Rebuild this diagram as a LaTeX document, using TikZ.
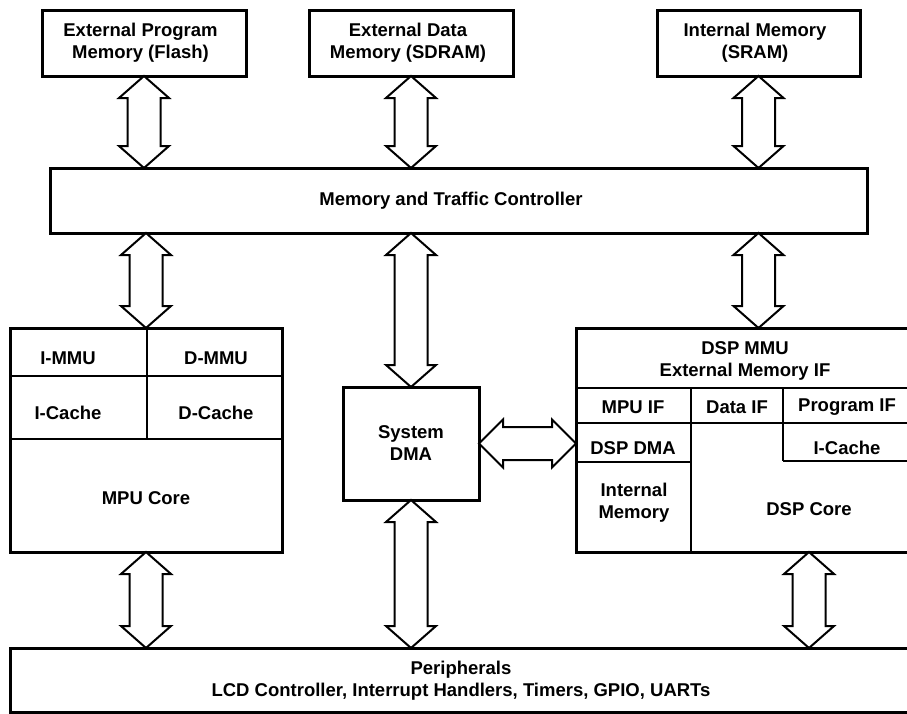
\documentclass[tikz,border=0pt]{standalone}
\usepackage{fontspec}
\setmainfont{Liberation Sans}
\usetikzlibrary{calc}
\newcommand\vbus[2]{\draw[bus] (#1) -- ++(25,22) -- ++(-8.5,0) -- ($(#2)+(16.5,-22)$) -- ++(8.5,0) -- (#2) -- ++(-25,-22) -- ++(8.5,0) -- ($(#1)+(-16.5,22)$) -- ++(-8.5,0) -- cycle;}
\newcommand\hbus[2]{\draw[bus] (#1) -- ++(24,-24) -- ++(0,7.5) -- ($(#2)+(-24,-16.5)$) -- ++(0,-7.5) -- (#2) -- ++(-24,24) -- ++(0,-7.5) -- ($(#1)+(24,16.5)$) -- ++(0,7.5) -- cycle;}
\begin{document}
\begin{tikzpicture}[x=1pt,y=-1pt,
  every node/.style={font=\bfseries\fontsize{18.5}{22}\selectfont, align=center},
  box/.style={draw, line width=3pt, inner sep=0pt, outer sep=0pt, rectangle},
  bus/.style={draw, line width=2pt, fill=white, line join=miter},
  divider/.style={line width=1.6pt},
  lbl/.style={inner sep=0pt}]
\useasboundingbox (0,0) rectangle (907,713);
\clip (0,0) rectangle (907,713);
\fill[white] (0,0) rectangle (907,713);
% top memories
\node[box, minimum width=204, minimum height=66] (F) at (144,43) {};
\node[lbl] (Ftxt) at (140.5,42.5) {External Program\\Memory (Flash)};
\node[box, minimum width=204, minimum height=66] (S) at (411,43) {};
\node[lbl] (Stxt) at (408,42.5) {External Data\\Memory (SDRAM)};
\node[box, minimum width=203, minimum height=66] (I) at (758.5,43) {};
\node[lbl] (Itxt) at (755,42.5) {Internal Memory\\(SRAM)};
% controller
\node[box, minimum width=817, minimum height=65] (M) at (458.5,200.5) {};
\node[lbl] (Mtxt) at (451,200.5) {Memory and Traffic Controller};
% MPU
\node[box, minimum width=272, minimum height=224] (MPU) at (146,440) {};
\draw[divider] (147,328) -- (147,439);
\draw[divider] (10,376) -- (282,376);
\draw[divider] (10,439) -- (282,439);
\node[lbl] (immu) at (68,358) {I-MMU};
\node[lbl] (dmmu) at (216,358) {D-MMU};
\node[lbl] (icache) at (68,413) {I-Cache};
\node[lbl] (dcache) at (216,413) {D-Cache};
\node[lbl] (mpucore) at (146,498) {MPU Core};
% System DMA
\node[box, minimum width=136, minimum height=113] (DMA) at (411,443.5) {System\\DMA};
% DSP (extends past the right edge of the picture)
\node[box, minimum width=384, minimum height=224] (DSP) at (768,440) {};
\draw[divider] (576,388) -- (960,388);
\draw[divider] (576,423) -- (960,423);
\draw[divider] (691,388) -- (691,552);
\draw[divider] (783,388) -- (783,461);
\draw[divider] (783,461) -- (960,461);
\draw[divider] (576,462) -- (691,462);
\node[lbl] (dspmmu) at (745,361) {DSP MMU\\External Memory IF};
\node[lbl] (mpuif) at (633,407) {MPU IF};
\node[lbl] (dataif) at (737,407) {Data IF};
\node[lbl] (progif) at (847,407) {Program IF};
\node[lbl] (dspdma) at (633,448) {DSP DMA};
\node[lbl] (dspicache) at (847,448) {I-Cache};
\node[lbl] (intmem) at (634,502.5) {Internal\\Memory};
\node[lbl] (dspcore) at (809,509) {DSP Core};
% Peripherals (extends past the right edge of the picture)
\node[box, minimum width=950, minimum height=64.5] (P) at (485,680.25) {};
\node[lbl] (plabel) at (461,681) {Peripherals\\LCD Controller, Interrupt Handlers, Timers, GPIO, UARTs};
% buses
\vbus{F.south}{F.south |- M.north}
\vbus{S.south}{S.south |- M.north}
\vbus{I.south}{I.south |- M.north}
\vbus{MPU.north |- M.south}{MPU.north}
\vbus{DMA.north |- M.south}{DMA.north}
\vbus{I.south |- M.south}{I.south |- DSP.north}
\vbus{MPU.south}{MPU.south |- P.north}
\vbus{DMA.south}{DMA.south |- P.north}
\vbus{dspcore |- DSP.south}{dspcore |- P.north}
\hbus{DMA.east}{DMA.east -| DSP.west}
\end{tikzpicture}
\end{document}
